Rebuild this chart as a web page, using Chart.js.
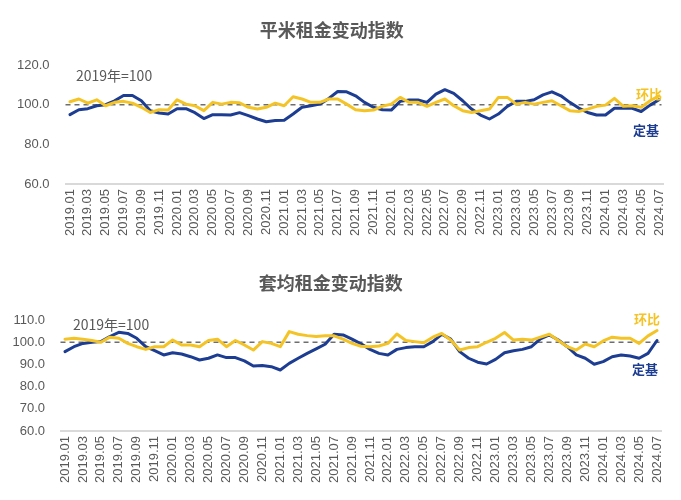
<!DOCTYPE html>
<html>
<head>
<meta charset="utf-8">
<script src="https://cdn.jsdelivr.net/npm/chart.js@4"></script>
<style>
  html, body { margin: 0; padding: 0; background: #ffffff; }
  .box { position: relative; width: 681px; height: 250px; }
  canvas { display: block; }
</style>
</head>
<body>
<div class="box"><canvas id="c1" width="681" height="250"></canvas></div>
<div class="box"><canvas id="c2" width="681" height="250"></canvas></div>
<script>
const months = [
  "2019.01","2019.02","2019.03","2019.04","2019.05","2019.06","2019.07","2019.08","2019.09","2019.10","2019.11","2019.12",
  "2020.01","2020.02","2020.03","2020.04","2020.05","2020.06","2020.07","2020.08","2020.09","2020.10","2020.11","2020.12",
  "2021.01","2021.02","2021.03","2021.04","2021.05","2021.06","2021.07","2021.08","2021.09","2021.10","2021.11","2021.12",
  "2022.01","2022.02","2022.03","2022.04","2022.05","2022.06","2022.07","2022.08","2022.09","2022.10","2022.11","2022.12",
  "2023.01","2023.02","2023.03","2023.04","2023.05","2023.06","2023.07","2023.08","2023.09","2023.10","2023.11","2023.12",
  "2024.01","2024.02","2024.03","2024.04","2024.05","2024.06","2024.07"
];

// 平米租金变动指数
const sqmFixedBase = [
  95.0, 97.5, 98.0, 99.5, 100.0, 102.0, 104.7, 104.7, 102.0, 97.0, 95.8, 95.3,
  98.0, 98.0, 96.0, 93.0, 95.0, 95.0, 94.8, 96.0, 94.5, 92.8, 91.4, 92.0,
  92.2, 95.3, 98.7, 99.5, 100.3, 103.2, 106.7, 106.5, 104.5, 101.2, 98.7, 97.5,
  97.3, 101.7, 102.4, 102.4, 101.2, 105.4, 107.6, 105.7, 102.0, 97.8, 94.8, 92.8,
  95.3, 99.2, 101.7, 101.7, 102.5, 105.0, 106.5, 104.5, 101.2, 98.3, 96.1, 94.8,
  94.8, 98.2, 98.2, 98.2, 96.6, 99.8, 102.5
];
const sqmMoM = [
  101.5, 102.9, 100.8, 102.5, 99.5, 101.2, 101.7, 100.8, 98.7, 96.1, 97.5, 97.3,
  102.5, 100.3, 99.5, 97.0, 101.2, 100.3, 101.2, 101.0, 98.7, 97.8, 98.7, 100.8,
  99.5, 104.0, 102.9, 101.2, 101.2, 102.9, 102.9, 100.3, 97.5, 97.0, 97.3, 99.2,
  100.3, 103.7, 101.2, 101.2, 99.2, 101.2, 102.9, 99.5, 97.0, 96.1, 97.0, 97.8,
  103.7, 103.7, 100.3, 101.2, 100.3, 101.2, 102.0, 99.5, 97.0, 96.6, 97.8, 99.2,
  99.8, 103.2, 99.2, 99.5, 98.7, 102.0, 104.5
];

// 套均租金变动指数
const unitFixedBase = [
  95.8, 98.0, 99.5, 100.0, 100.3, 102.6, 104.5, 104.0, 101.8, 98.0, 96.2, 94.3,
  95.3, 94.7, 93.5, 92.0, 92.8, 94.3, 93.1, 93.1, 91.6, 89.3, 89.5, 89.0,
  87.5, 90.5, 92.8, 95.0, 97.0, 99.1, 103.6, 103.3, 101.4, 99.3, 96.8, 95.0,
  94.3, 96.8, 97.6, 98.0, 98.0, 100.3, 103.6, 101.4, 95.8, 92.8, 91.0, 90.2,
  92.3, 95.3, 96.2, 96.8, 98.0, 101.5, 103.3, 101.0, 98.0, 94.3, 92.8, 90.1,
  91.3, 93.5, 94.3, 93.8, 92.8, 95.0, 100.8
];
const unitMoM = [
  101.4, 101.8, 101.4, 100.8, 100.0, 102.3, 101.8, 99.5, 98.0, 96.8, 98.0, 98.0,
  101.0, 98.8, 98.8, 98.0, 100.8, 101.4, 98.0, 100.8, 98.8, 96.5, 100.3, 99.5,
  98.0, 104.8, 103.6, 103.0, 102.6, 102.9, 102.9, 101.4, 99.5, 98.2, 98.0, 98.3,
  99.5, 103.7, 100.8, 100.3, 99.8, 102.3, 104.0, 101.0, 96.5, 97.6, 98.0, 100.0,
  101.8, 104.4, 101.0, 101.4, 101.0, 102.3, 103.6, 100.8, 98.0, 96.5, 99.2, 98.0,
  100.6, 102.3, 101.8, 101.8, 99.5, 102.9, 105.3
];

const sqmTicks = [60, 80, 100, 120];
const unitTicks = [60, 70, 80, 90, 100, 110];
const BASELINE = 100;
const baseNote = "2019年=100";
const nameMoM = "环比";
const nameFixed = "定基";

const BLUE = "#1c3d91";
const YELLOW = "#f4c426";
const GRAY = "#595959";
const FONT = '"Liberation Sans", "Noto Sans CJK SC", sans-serif';
const CJK = '"Noto Sans CJK SC", "Liberation Sans", sans-serif';

function makeChart(id, opts) {
  const overlay = {
    id: 'overlay',
    beforeDatasetsDraw(chart) {
      const ctx = chart.ctx;
      const ca = chart.chartArea;
      const y = chart.scales.y.getPixelForValue(BASELINE);
      ctx.save();
      ctx.strokeStyle = "#6e6e6e";
      ctx.lineWidth = 1.5;
      ctx.setLineDash([5, 4]);
      ctx.beginPath();
      ctx.moveTo(ca.left, y);
      ctx.lineTo(ca.right - 2, y);
      ctx.stroke();
      ctx.restore();
    },
    afterDatasetsDraw(chart) {
      const ctx = chart.ctx;
      ctx.save();
      ctx.textBaseline = "middle";
      ctx.textAlign = "left";
      ctx.font = "14px " + CJK;
      ctx.fillStyle = GRAY;
      ctx.fillText(baseNote, opts.note[0], opts.note[1]);
      ctx.font = "bold 13px " + CJK;
      ctx.fillStyle = YELLOW;
      ctx.fillText(nameMoM, opts.mom[0], opts.mom[1]);
      ctx.fillStyle = BLUE;
      ctx.fillText(nameFixed, opts.fix[0], opts.fix[1]);
      ctx.restore();
    }
  };
  return new Chart(document.getElementById(id), {
    type: 'line',
    data: {
      labels: months,
      datasets: [
        { label: nameMoM, data: opts.mom_data, borderColor: YELLOW, backgroundColor: YELLOW,
          borderWidth: 3, pointRadius: 0, tension: 0, borderJoinStyle: 'round', borderCapStyle: 'round', order: 1 },
        { label: nameFixed, data: opts.fix_data, borderColor: BLUE, backgroundColor: BLUE,
          borderWidth: 3, pointRadius: 0, tension: 0, borderJoinStyle: 'round', borderCapStyle: 'round', order: 2 }
      ]
    },
    options: {
      responsive: false,
      animation: false,
      devicePixelRatio: 1,
      layout: { padding: { left: 0, right: opts.right, top: 0, bottom: 0 } },
      plugins: {
        legend: { display: false },
        tooltip: { enabled: false },
        title: {
          display: true,
          text: opts.title,
          color: GRAY,
          font: { family: CJK, size: 18, weight: 'bold', lineHeight: 1.2 },
          padding: { top: opts.titleTop, bottom: opts.titleBottom }
        }
      },
      scales: {
        x: {
          type: 'category',
          offset: true,
          grid: { display: false, drawTicks: false },
          border: { display: true, color: '#d9d9d9', width: 2 },
          ticks: {
            autoSkip: false,
            maxRotation: 90,
            minRotation: 90,
            padding: 5,
            color: GRAY,
            font: { family: FONT, size: 13 },
            callback: function (v, i) { return i % 2 === 0 ? months[i] : ''; }
          },
          afterFit(scale) { scale.height = opts.xh; }
        },
        y: {
          min: opts.tickVals[0],
          max: opts.tickVals[opts.tickVals.length - 1],
          afterBuildTicks(scale) { scale.ticks = opts.tickVals.map(v => ({ value: v })); },
          grid: { display: false, drawTicks: false },
          border: { display: false },
          ticks: {
            padding: opts.ypad,
            color: GRAY,
            font: { family: FONT, size: 13 },
            callback: v => Number(v).toFixed(1)
          },
          afterFit(scale) { scale.width = opts.yw; }
        }
      }
    },
    plugins: [overlay]
  });
}

makeChart('c1', {
  title: "平米租金变动指数",
  mom_data: sqmMoM, fix_data: sqmFixedBase,
  tickVals: sqmTicks,
  titleTop: 19, titleBottom: 24.5,
  xh: 66, yw: 65.5, ypad: 16, right: 17.5,
  note: [76, 76], mom: [636, 94], fix: [633, 130]
});

makeChart('c2', {
  title: "套均租金变动指数",
  mom_data: unitMoM, fix_data: unitFixedBase,
  tickVals: unitTicks,
  titleTop: 22, titleBottom: 26.5,
  xh: 69, yw: 60.5, ypad: 15.5, right: 19.5,
  note: [73, 75], mom: [634, 69], fix: [632, 119]
});
</script>
</body>
</html>
